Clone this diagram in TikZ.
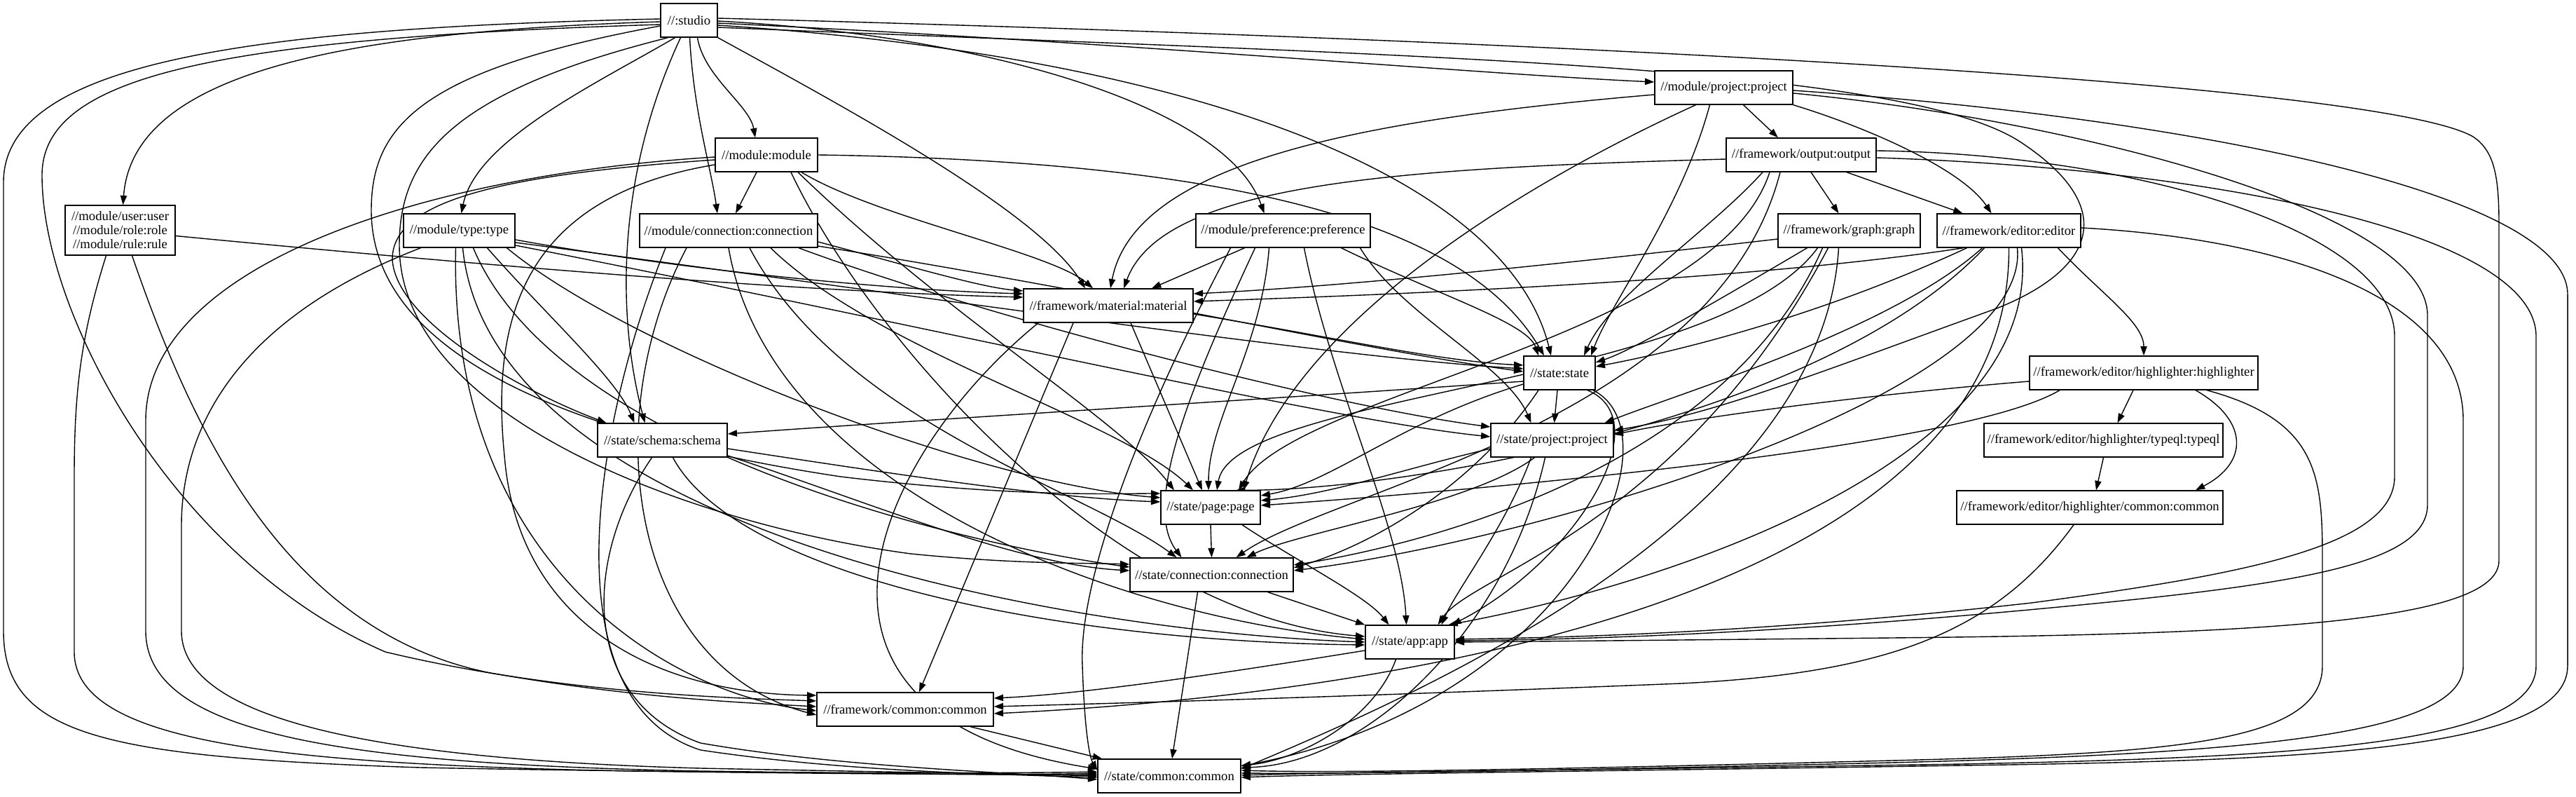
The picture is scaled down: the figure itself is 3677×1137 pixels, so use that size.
\documentclass[tikz,border=0pt]{standalone}
\usepackage{fontspec}
\setmainfont{Liberation Serif}
\usetikzlibrary{arrows.meta}
\pgfdeclarelayer{edgelayer}
\pgfsetlayers{edgelayer,main}
\begin{document}
\begin{tikzpicture}[x=1pt,y=-1pt,
  nbox/.style={draw,fill=white,line width=1.4pt,rectangle,minimum height=48pt,inner sep=0pt,font=\fontsize{18.67pt}{20pt}\selectfont},
  dep/.style={draw,line width=1.4pt,line join=round,-{Triangle[length=13.3pt,width=9.3pt]}}]
\useasboundingbox (0,0) rectangle (3677,1137);
% nodes
\node[nbox,minimum width=81pt] (S) at (983.5,29) {//:studio};
\node[nbox,minimum width=197pt] (MP) at (2460.5,125) {//module/project:project};
\node[nbox,minimum width=146pt] (M) at (1094,221) {//module:module};
\node[nbox,minimum width=214pt] (OUT) at (2571,221) {//framework/output:output};
\node[nbox,minimum width=157pt,minimum height=71pt,align=center] (U) at (171.5,328.5) {//module/user:user\\//module/role:role\\//module/rule:rule};
\node[nbox,minimum width=159pt] (T) at (655.5,329) {//module/type:type};
\node[nbox,minimum width=254pt] (MC) at (1040,329) {//module/connection:connection};
\node[nbox,minimum width=249pt] (PF) at (1831.5,329) {//module/preference:preference};
\node[nbox,minimum width=203pt] (G) at (2639.5,329) {//framework/graph:graph};
\node[nbox,minimum width=205pt] (E) at (2867.5,329) {//framework/editor:editor};
\node[nbox,minimum width=242pt] (MAT) at (1582,436) {//framework/material:material};
\node[nbox,minimum width=102pt] (ST) at (2226,532) {//state:state};
\node[nbox,minimum width=326pt] (HL) at (3060,532) {//framework/editor/highlighter:highlighter};
\node[nbox,minimum width=185pt] (SCH) at (945.5,628) {//state/schema:schema};
\node[nbox,minimum width=175pt] (SP) at (2215.5,628) {//state/project:project};
\node[nbox,minimum width=341pt] (TQ) at (3002.5,628) {//framework/editor/highlighter/typeql:typeql};
\node[nbox,minimum width=142pt] (PG) at (1728,724) {//state/page:page};
\node[nbox,minimum width=380pt] (HC) at (2983,724) {//framework/editor/highlighter/common:common};
\node[nbox,minimum width=233pt] (SC) at (1729.5,820) {//state/connection:connection};
\node[nbox,minimum width=127pt] (APP) at (2012.5,916) {//state/app:app};
\node[nbox,minimum width=252pt] (FC) at (1292,1012) {//framework/common:common};
\node[nbox,minimum width=204pt] (SCM) at (1669,1107) {//state/common:common};
\begin{pgfonlayer}{edgelayer}
\fill[white] (0,0) rectangle (3677,1137);
% studio
\draw[dep] ([yshift=-4]S.east) .. controls (1600,60) and (2100,105) .. ([yshift=8]MP.west);
\draw[dep] ([xshift=12]S.south) .. controls (1005,110) and (1070,150) .. ([xshift=-16]M.north);
\draw[dep] ([xshift=1]S.south) .. controls (990,160) and (1015,240) .. ([xshift=-16]MC.north);
\draw[dep] ([xshift=-20]S.south) .. controls (850,120) and (680,200) .. ([xshift=3]T.north);
\draw[dep] ([yshift=-2]S.west) .. controls (500,45) and (190,100) .. ([xshift=4]U.north);
\draw[dep] ([yshift=-6]S.west) .. controls (300,55) and (60,110) .. (60,250) .. controls (60,450) and (250,800) .. (550,930) .. controls (800,990) and (1050,996) .. ([yshift=12]FC.west);
\draw[dep] ([yshift=2]S.west) .. controls (350,40) and (5,90) .. (5,260) -- (5,900) .. controls (5,1050) and (150,1080) .. (600,1095) .. controls (1000,1103) and (1400,1104) .. ([yshift=6]SCM.west);
\draw[dep] (S.south east) .. controls (1200,150) and (1480,300) .. ([xshift=-33]MAT.north);
\draw[dep] ([yshift=-1]S.east) .. controls (1400,50) and (1750,150) .. ([xshift=-27]PF.north);
\draw[dep] ([yshift=-7]S.east) .. controls (1700,80) and (2150,250) .. ([xshift=-12]ST.north);
\draw[dep] ([yshift=3]S.east) .. controls (2300,60) and (3400,120) .. (3530,195) .. controls (3560,215) and (3567,250) .. (3567,320) -- (3567,800) .. controls (3567,890) and (3200,905) .. (2700,910) .. controls (2400,913) and (2200,915) .. (APP.east);
\draw[dep] ([yshift=-10]S.east) .. controls (2000,80) and (2700,90) .. (2880,200) .. controls (3020,290) and (3000,380) .. (2850,440) .. controls (2600,530) and (2450,590) .. ([yshift=14]SP.east);
\draw[dep] ([xshift=-12]S.south) .. controls (880,250) and (880,450) .. ([xshift=-25]SCH.north);
\draw[dep] ([yshift=-8]S.west) .. controls (600,100) and (530,180) .. (530,300) .. controls (530,500) and (800,620) .. (1200,680) .. controls (1450,710) and (1600,704) .. ([yshift=20]PG.west);
\draw[dep] ([xshift=-30]S.south) .. controls (650,130) and (570,220) .. (570,350) .. controls (570,600) and (1000,750) .. (1300,790) .. controls (1450,805) and (1550,803) .. ([yshift=15]SC.west);
% module/project
\draw[dep] ([xshift=28]MP.south) -- ([xshift=-33]OUT.north);
\draw[dep] (MP.south east) .. controls (2660,180) and (2800,240) .. ([xshift=-25]E.north);
\draw[dep] ([yshift=-10]MP.west) .. controls (1950,170) and (1620,230) .. ([xshift=3]MAT.north);
\draw[dep] ([xshift=-20]MP.south) .. controls (2400,300) and (2300,430) .. ([xshift=45]ST.north);
\draw[dep] ([xshift=-40]MP.south) .. controls (2200,250) and (1850,450) .. ([xshift=47]PG.north);
\draw[dep] ([yshift=-8]MP.east) .. controls (2950,170) and (3465,300) .. (3465,450) -- (3465,720) .. controls (3465,800) and (3300,830) .. (3000,860) .. controls (2600,900) and (2300,912) .. ([yshift=2]APP.east);
\draw[dep] ([yshift=-4]MP.east) .. controls (3150,170) and (3665,280) .. (3665,420) -- (3665,950) .. controls (3665,1070) and (3300,1085) .. (2800,1092) .. controls (2300,1100) and (1900,1104) .. ([yshift=-2]SCM.east);
% module
\draw[dep] ([xshift=-14]M.south) -- ([xshift=10]MC.north);
\draw[dep] ([xshift=50]M.south) .. controls (1250,310) and (1500,360) .. ([xshift=-22]MAT.north);
\draw[dep] (M.east) .. controls (1800,230) and (2100,330) .. ([xshift=-22]ST.north);
\draw[dep] ([yshift=-7]M.west) .. controls (700,250) and (560,290) .. (560,370) .. controls (565,460) and (750,560) .. ([xshift=-80]SCH.north);
\draw[dep] ([xshift=35]M.south) .. controls (1250,500) and (1600,880) .. ([yshift=8]APP.west);
\draw[dep] ([yshift=-14]M.west) .. controls (750,280) and (700,450) .. (720,650) .. controls (740,900) and (950,990) .. ([yshift=20]FC.west);
\draw[dep] ([yshift=-3]M.west) .. controls (600,250) and (208,380) .. (208,600) -- (208,900) .. controls (208,1050) and (500,1090) .. (1000,1100) .. controls (1300,1104) and (1450,1106) .. ([yshift=2]SCM.west);
\draw[dep] ([xshift=45]M.south) .. controls (1350,450) and (1600,600) .. ([xshift=-52]PG.north);
% output
\draw[dep] ([xshift=14]OUT.south) -- ([xshift=-15]G.north);
\draw[dep] ([xshift=65]OUT.south) -- ([xshift=-66]E.north);
\draw[dep] ([yshift=-6]OUT.west) .. controls (2000,240) and (1660,260) .. ([xshift=22]MAT.north);
\draw[dep] ([xshift=-55]OUT.south) .. controls (2440,330) and (2300,420) .. ([xshift=35]ST.north);
\draw[dep] ([xshift=-45]OUT.south) .. controls (2450,480) and (1850,560) .. ([xshift=40]PG.north);
\draw[dep] ([xshift=-30]OUT.south) .. controls (2450,600) and (1900,700) .. ([xshift=35]SC.north);
\draw[dep] ([yshift=6]OUT.east) .. controls (3050,220) and (3418,330) .. (3418,480) -- (3418,680) .. controls (3418,780) and (3200,820) .. (2900,860) .. controls (2500,905) and (2200,910) .. ([yshift=4]APP.east);
\draw[dep] ([yshift=-4]OUT.east) .. controls (3150,240) and (3620,330) .. (3620,480) -- (3620,950) .. controls (3620,1060) and (3300,1080) .. (2800,1090) .. controls (2300,1098) and (1900,1102) .. ([yshift=1]SCM.east);
% user/role/rule
\draw[dep] ([yshift=-8]U.east) .. controls (600,370) and (1100,415) .. ([yshift=12]MAT.west);
\draw[dep] ([xshift=-20]U.south) .. controls (115,480) and (106,560) .. (106,680) -- (106,930) .. controls (106,1060) and (400,1090) .. (900,1100) .. controls (1200,1104) and (1450,1106) .. ([yshift=4]SCM.west);
\draw[dep] ([xshift=17]U.south) .. controls (270,600) and (400,900) .. (700,960) .. controls (900,995) and (1050,1002) .. ([yshift=4]FC.west);
% type
\draw[dep] ([xshift=40]T.south) .. controls (780,450) and (880,540) .. ([xshift=-40]SCH.north);
\draw[dep] ([yshift=-13]T.east) .. controls (1000,390) and (1300,415) .. ([yshift=17]MAT.west);
\draw[dep] ([yshift=-17]T.east) .. controls (1300,420) and (1900,510) .. ([yshift=6]ST.west);
\draw[dep] ([yshift=-21]T.east) .. controls (1300,460) and (1900,600) .. ([yshift=5]SP.west);
\draw[dep] ([xshift=68]T.south) .. controls (900,500) and (1400,690) .. ([yshift=14]PG.west);
\draw[dep] ([xshift=20]T.south) .. controls (800,650) and (1400,780) .. ([yshift=11]SC.west);
\draw[dep] ([xshift=5]T.south) .. controls (700,750) and (1500,900) .. (APP.west);
\draw[dep] ([xshift=-5]T.south) .. controls (640,800) and (950,990) .. ([yshift=-2]FC.west);
\draw[dep] ([xshift=-55]T.south) .. controls (350,450) and (259,600) .. (259,750) -- (259,900) .. controls (259,1040) and (600,1085) .. (1000,1096) .. controls (1300,1102) and (1450,1104) .. (SCM.west);
% module/connection
\draw[dep] ([yshift=-16]MC.east) .. controls (1300,380) and (1400,410) .. ([yshift=21]MAT.west);
\draw[dep] ([yshift=-22]MC.east) .. controls (1600,420) and (1950,500) .. ([yshift=2]ST.west);
\draw[dep] ([xshift=100]MC.south) .. controls (1400,450) and (1900,580) .. ([yshift=19]SP.west);
\draw[dep] ([xshift=60]MC.south) .. controls (1250,500) and (1600,600) .. ([xshift=-25]PG.north);
\draw[dep] ([xshift=30]MC.south) .. controls (1200,600) and (1550,700) .. ([xshift=-50]SC.north);
\draw[dep] (MC.south) .. controls (1100,700) and (1600,880) .. ([yshift=4]APP.west);
\draw[dep] ([xshift=-60]MC.south) .. controls (850,600) and (900,950) .. ([yshift=-8]FC.west);
\draw[dep] ([xshift=-90]MC.south) .. controls (850,600) and (780,1000) .. (1000,1070) .. controls (1200,1100) and (1400,1104) .. ([yshift=-2]SCM.west);
% preference
\draw[dep] ([xshift=-55]PF.south) -- ([xshift=62]MAT.north);
\draw[dep] ([xshift=83]PF.south) .. controls (2050,420) and (2180,460) .. ([xshift=-30]ST.north);
\draw[dep] ([xshift=-20]PF.south) .. controls (1800,500) and (1725,600) .. ([xshift=-3]PG.north);
\draw[dep] ([xshift=-40]PF.south) .. controls (1700,550) and (1630,720) .. ([xshift=-43]SC.north);
\draw[dep] ([xshift=30]PF.south) .. controls (1900,550) and (2000,750) .. ([xshift=-5]APP.north);
\draw[dep] ([xshift=-75]PF.south) .. controls (1600,650) and (1540,850) .. (1545,950) .. controls (1548,1040) and (1555,1080) .. ([yshift=8]SCM.west);
\draw[dep] ([xshift=110]PF.south) .. controls (2000,450) and (2150,520) .. ([xshift=-30]SP.north);
% graph
\draw[dep] ([yshift=-12]G.west) .. controls (2200,380) and (1900,410) .. ([yshift=17]MAT.east);
\draw[dep] ([xshift=-60]G.south) .. controls (2450,430) and (2330,500) .. ([yshift=15]ST.east);
\draw[dep] ([xshift=-45]G.south) .. controls (2450,550) and (1760,560) .. ([xshift=9]PG.north);
\draw[dep] ([xshift=-38]G.south) .. controls (2450,700) and (1950,790) .. ([yshift=14]SC.east);
\draw[dep] ([xshift=-30]G.south) .. controls (2400,750) and (2100,820) .. ([xshift=40]APP.north);
\draw[dep] ([xshift=-15]G.south) .. controls (2600,750) and (2000,1000) .. ([yshift=10]SCM.east);
% editor
\draw[dep] ([xshift=70]E.south) .. controls (3000,420) and (3060,460) .. (HL.north);
\draw[dep] ([xshift=-65]E.south) .. controls (2500,400) and (2000,420) .. ([yshift=6]MAT.east);
\draw[dep] ([xshift=-60]E.south) .. controls (2600,450) and (2400,500) .. ([yshift=9]ST.east);
\draw[dep] ([xshift=-38]E.south) .. controls (2700,470) and (2400,560) .. ([xshift=75]SP.north);
\draw[dep] ([xshift=-35]E.south) .. controls (2600,600) and (2000,700) .. ([xshift=36]PG.north);
\draw[dep] ([xshift=12]E.south) .. controls (2900,560) and (2200,770) .. ([yshift=6]SC.east);
\draw[dep] ([xshift=18]E.south) .. controls (2920,650) and (2400,830) .. ([xshift=55]APP.north);
\draw[dep] ([yshift=4]E.east) .. controls (3250,340) and (3516,420) .. (3516,600) -- (3516,950) .. controls (3516,1050) and (3200,1075) .. (2700,1088) .. controls (2200,1100) and (1900,1104) .. ([yshift=4]SCM.east);
\draw[dep] (E.south) .. controls (2870,850) and (2000,990) .. ([yshift=-6]FC.east);
% material
\draw[dep] ([yshift=-12]MAT.east) .. controls (1900,480) and (2050,515) .. ([yshift=11]ST.west);
\draw[dep] ([xshift=32]MAT.south) -- ([xshift=-12]PG.north);
\draw[dep] ([xshift=-50]MAT.south) -- ([xshift=20]FC.north);
\draw[dep] ([xshift=-100]MAT.south) .. controls (1250,650) and (1080,1020) .. ([yshift=10]SCM.west);
% state
\draw[dep] ([yshift=-12]ST.west) .. controls (1800,570) and (1300,600) .. ([yshift=9]SCH.east);
\draw[dep] ([xshift=-3]ST.south) -- ([xshift=3]SP.north);
\draw[dep] ([yshift=-16]ST.west) .. controls (2000,600) and (1900,690) .. ([yshift=17]PG.east);
\draw[dep] ([xshift=-30]ST.south) .. controls (2100,700) and (1950,780) .. ([yshift=10]SC.east);
\draw[dep] ([xshift=40]ST.south) .. controls (2370,600) and (2250,800) .. ([xshift=60]APP.north);
\draw[dep] ([xshift=48]ST.south) .. controls (2400,620) and (2250,1000) .. ([yshift=14]SCM.east);
% highlighter
\draw[dep] ([xshift=-15]HL.south) -- ([xshift=20]TQ.north);
\draw[dep] ([xshift=74]HL.south) .. controls (3210,600) and (3210,660) .. ([xshift=151]HC.north);
\draw[dep] ([xshift=90]HL.south) .. controls (3310,600) and (3315,680) .. (3315,800) -- (3315,950) .. controls (3315,1060) and (3100,1075) .. (2700,1085) .. controls (2200,1098) and (1900,1103) .. ([yshift=8]SCM.east);
\draw[dep] ([yshift=-12]HL.west) .. controls (2700,560) and (2450,590) .. ([yshift=8]SP.east);
\draw[dep] ([xshift=-120]HL.south) .. controls (2800,640) and (2100,700) .. ([yshift=3]PG.east);
% schema
\draw[dep] ([yshift=-12]SCH.east) .. controls (1300,680) and (1500,710) .. ([yshift=8]PG.west);
\draw[dep] ([yshift=-22]SCH.east) .. controls (1250,720) and (1450,805) .. ([yshift=6]SC.west);
\draw[dep] ([xshift=15]SCH.south) .. controls (1050,820) and (1500,915) .. ([yshift=-4]APP.west);
\draw[dep] ([xshift=-15]SCH.south) .. controls (830,800) and (830,1000) .. (1000,1060) .. controls (1200,1095) and (1450,1102) .. ([yshift=-5]SCM.west);
% state/project
\draw[dep] ([yshift=-12]SP.west) .. controls (2000,670) and (1900,705) .. ([yshift=10]PG.east);
\draw[dep] ([xshift=-30]SP.south) .. controls (2150,750) and (2080,840) .. ([xshift=45]APP.north);
\draw[dep] ([xshift=-10]SP.south) .. controls (2150,900) and (1950,1090) .. ([yshift=12]SCM.east);
\draw[dep] ([xshift=-25]SP.south) .. controls (2100,720) and (1850,760) .. ([xshift=50]SC.north);
% typeql, page, highlighter common
\draw[dep] (TQ.south) -- ([xshift=9]HC.north);
\draw[dep] (PG.south) -- (SC.north);
\draw[dep] ([xshift=45]PG.south) .. controls (1850,800) and (1950,850) .. ([xshift=-30]APP.north);
\draw[dep] ([xshift=-23]HC.south) .. controls (2850,900) and (2700,960) .. (2400,975) .. controls (1900,995) and (1600,1003) .. ([yshift=4]FC.east);
% connection, app, common
\draw[dep] ([xshift=80]SC.south) -- (APP.north west);
\draw[dep] ([xshift=-20]SC.south) -- ([xshift=4]SCM.north);
\draw[dep] ([yshift=-12]APP.west) .. controls (1750,960) and (1550,990) .. ([yshift=16]FC.east);
\draw[dep] ([xshift=-20]APP.south) .. controls (1960,1030) and (1850,1085) .. ([yshift=15]SCM.east);
\draw[dep] ([xshift=93]FC.south) -- ([xshift=-96]SCM.north);
\end{pgfonlayer}
\end{tikzpicture}
\end{document}
